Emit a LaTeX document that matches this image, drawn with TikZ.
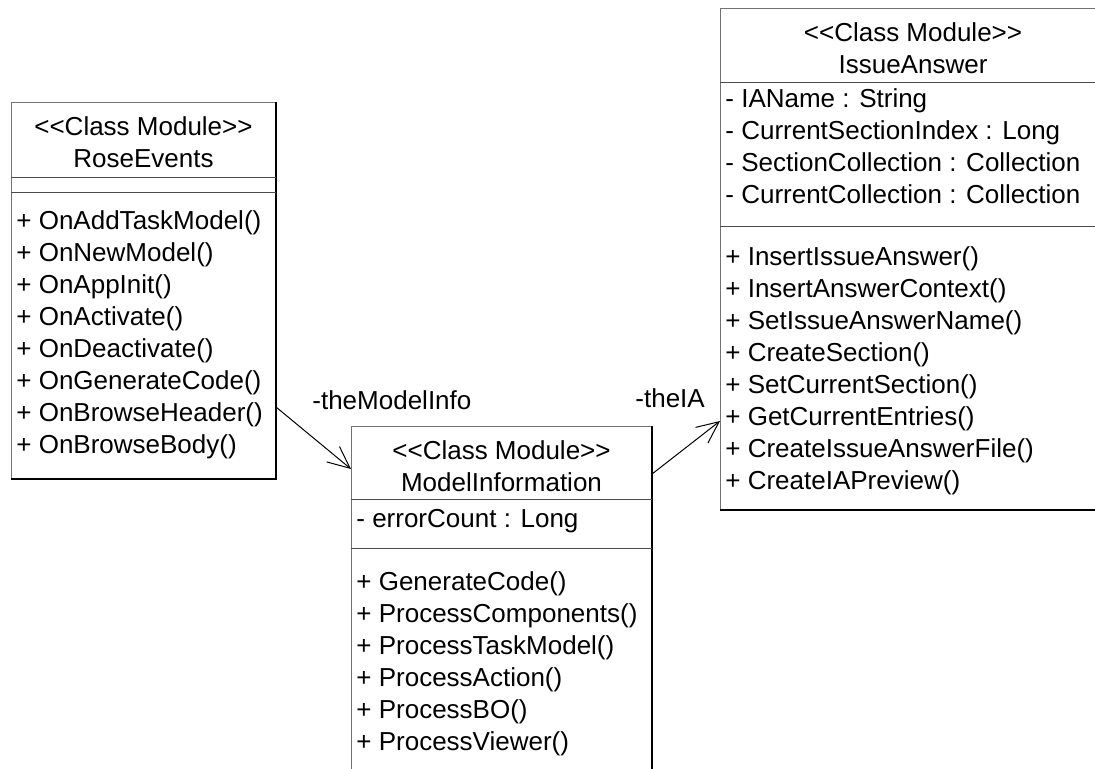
\documentclass[tikz,border=0pt]{standalone}
\usepackage{fontspec}
\setmainfont{Liberation Sans}[Ligatures=TeXOff]
\usetikzlibrary{calc,arrows.meta}

\begin{document}
\begin{tikzpicture}[x=0.5pt, y=-0.5pt,
    every node/.style={inner sep=0pt, font=\fontsize{13pt}{16pt}\selectfont},
    member/.style={anchor=base west},
    title/.style={anchor=base},
    edge/.style={draw=black!55, line width=0.5pt},
    rim/.style={draw=black, line width=1pt},
    sep/.style={draw=black!70, line width=0.5pt},
    assoc/.style={line width=0.5pt, -{Straight Barb[length=11pt, width=10pt]}}]

    % 描画範囲
    \useasboundingbox (0,0) rectangle (1095,768);
    \clip (0,0) rectangle (1095,768);

    % パラメータの定義
    \pgfmathsetmacro{\dy}{32}

    % RoseEvents の箱
    \path[edge] (11,479) -- (11,102) -- (276,102);
    \path[rim] (276,102) -- (276,479) -- (11,479);
    \path[sep] (11,177) -- (276,177);
    \path[sep] (11,192) -- (276,192);
    \node[title] (reStereo) at (143.5,135) {<<Class Module>>};
    \node[title] (reName) at (143.5,167) {RoseEvents};
    \foreach \m [count=\i from 0] in {+ OnAddTaskModel(), + OnNewModel(), + OnAppInit(),
        + OnActivate(), + OnDeactivate(), + OnGenerateCode(), + OnBrowseHeader(), + OnBrowseBody()}
        \node[member] (reOp\i) at (16,229+\i*\dy) {\m};

    % ModelInformation の箱
    \path[edge] (351,800) -- (351,426) -- (652,426);
    \path[rim] (652,426) -- (652,800);
    \path[sep] (351,499) -- (652,499);
    \path[sep] (351,548) -- (652,548);
    \node[title] (miStereo) at (501.5,459) {<<Class Module>>};
    \node[title] (miName) at (501.5,491) {ModelInformation};
    \node[member] (miAttr0) at (356,527) {- errorCount : Long};
    \foreach \m [count=\i from 0] in {+ GenerateCode(), + ProcessComponents(), + ProcessTaskModel(),
        + ProcessAction(), + ProcessBO(), + ProcessViewer()}
        \node[member] (miOp\i) at (356,590+\i*\dy) {\m};

    % IssueAnswer の箱
    \path[edge] (720,510) -- (720,8) -- (1106,8);
    \path[rim] (1106,8) -- (1106,510) -- (720,510);
    \path[sep] (720,82) -- (1106,82);
    \path[sep] (720,226) -- (1106,226);
    \node[title] (iaStereo) at (913,41) {<<Class Module>>};
    \node[title] (iaName) at (913,73) {IssueAnswer};
    \foreach \m [count=\i from 0] in {- IAName : String, - CurrentSectionIndex : Long,
        - SectionCollection : Collection, - CurrentCollection : Collection}
        \node[member] (iaAttr\i) at (725,107+\i*\dy) {\m};
    \foreach \m [count=\i from 0] in {+ InsertIssueAnswer(), + InsertAnswerContext(),
        + SetIssueAnswerName(), + CreateSection(), + SetCurrentSection(), + GetCurrentEntries(),
        + CreateIssueAnswerFile(), + CreateIAPreview()}
        \node[member] (iaOp\i) at (725,265+\i*\dy) {\m};

    % 関連の端点
    \coordinate (reOut) at (276,407);
    \coordinate (miIn) at (351,469);
    \coordinate (miOut) at (652,474);
    \coordinate (iaIn) at (720,421);

    % 関連の描画
    \draw[assoc] (reOut) -- (miIn);
    \draw[assoc] (miOut) -- (iaIn);
    \node[member] (roleInfo) at (312,409) {-theModelInfo};
    \node[member] (roleIA) at (635,407) {-theIA};

\end{tikzpicture}
\end{document}
